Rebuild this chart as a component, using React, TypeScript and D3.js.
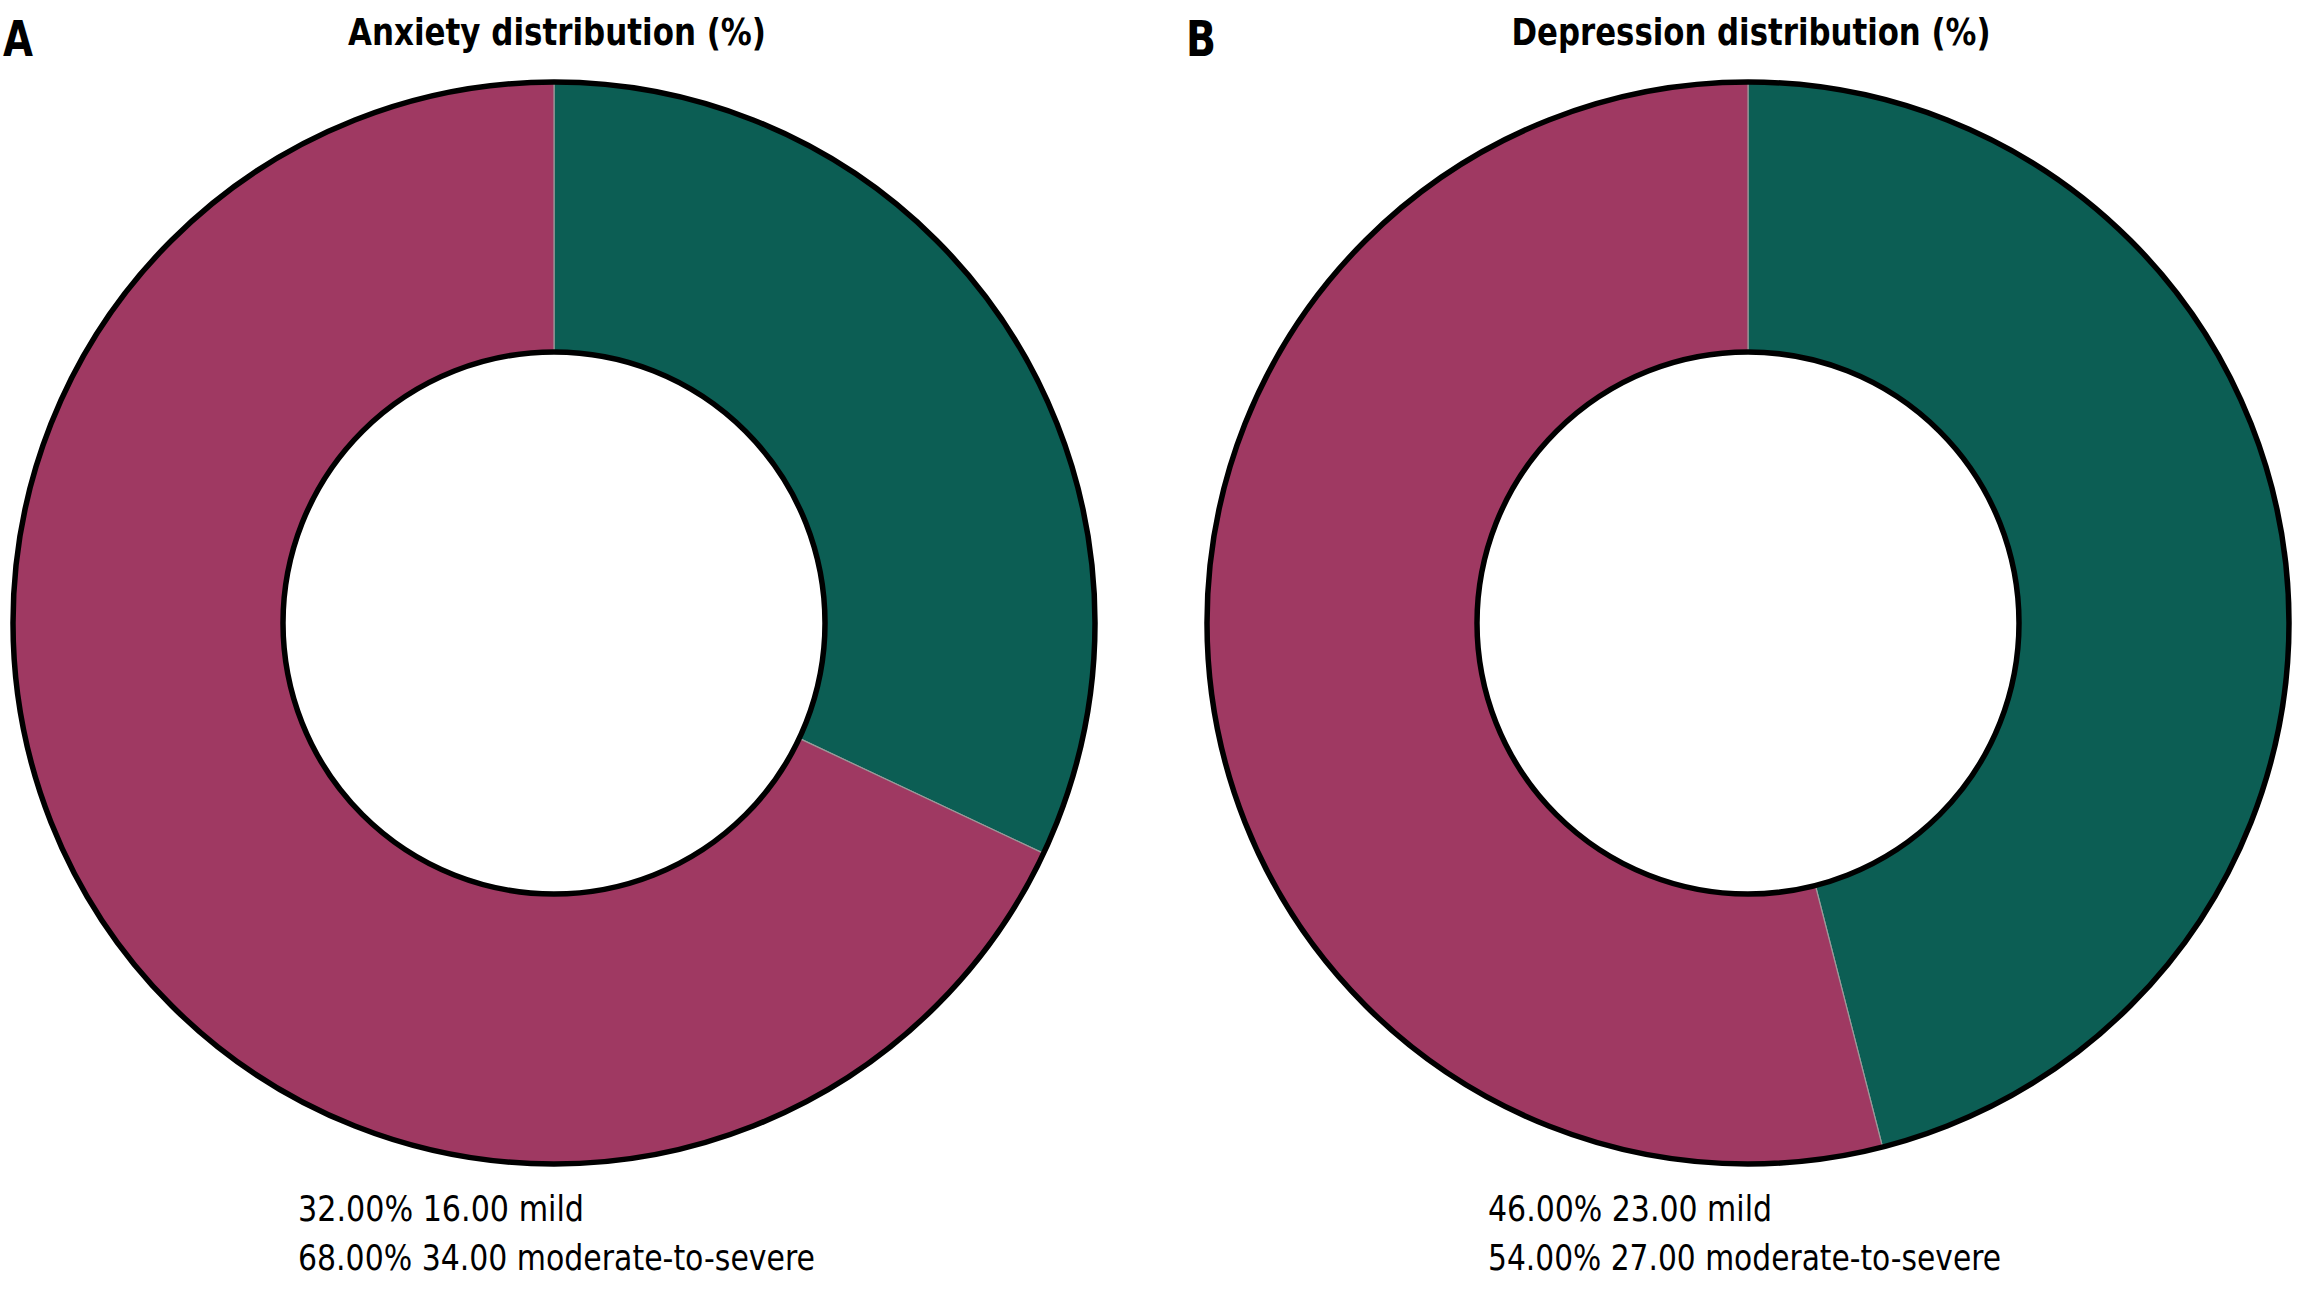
import React from "react";
import * as d3 from "d3";

const categories = ["mild", "moderate-to-severe"];
const anxietyPercent = [32.0, 68.0];
const anxietyCount = [16.0, 34.0];
const depressionPercent = [46.0, 54.0];
const depressionCount = [23.0, 27.0];
const panelLabels = ["A", "B"];
const panelTitles = ["Anxiety distribution (%)", "Depression distribution (%)"];
const colors = ["#0c5e54", "#9f3962"];

const W = 2310;
const H = 1290;

type PanelProps = {
  cx: number;
  cy: number;
  label: string;
  labelX: number;
  title: string;
  titleWidth: number;
  percents: number[];
  counts: number[];
  legendX: number;
  legendWidths: number[];
};

function Panel(p: PanelProps) {
  const outerR = 541;
  const innerR = 271;
  const pie = d3
    .pie<number>()
    .sort(null)
    .value((d) => d);
  const arcs = pie(p.percents);
  const arc = d3.arc<d3.PieArcDatum<number>>().innerRadius(innerR).outerRadius(outerR);
  const font = "Tahoma, 'DejaVu Sans', Verdana, sans-serif";
  return (
    <g>
      <text
        x={p.labelX}
        y={56}
        fontFamily={font}
        fontWeight="bold"
        fontSize={50}
        textLength={30}
        lengthAdjust="spacingAndGlyphs"
        fill="#000"
      >
        {p.label}
      </text>
      <text
        x={p.cx + 3}
        y={45}
        textAnchor="middle"
        fontFamily={font}
        fontWeight="bold"
        fontSize={38}
        textLength={p.titleWidth}
        lengthAdjust="spacingAndGlyphs"
        fill="#000"
      >
        {p.title}
      </text>
      <g transform={`translate(${p.cx},${p.cy})`}>
        {arcs.map((a, i) => (
          <path key={i} d={arc(a) || ""} fill={colors[i]} stroke="#9a9a9a" strokeWidth={1.2} />
        ))}
        <circle r={outerR} fill="none" stroke="#000" strokeWidth={5.5} />
        <circle r={innerR} fill="#fff" stroke="#000" strokeWidth={5.5} />
      </g>
      {categories.map((c, i) => (
        <text
          key={c}
          x={p.legendX}
          y={1221 + i * 49}
          fontFamily={font}
          fontSize={35}
          textLength={p.legendWidths[i]}
          lengthAdjust="spacingAndGlyphs"
          fill="#000"
        >
          {`${p.percents[i].toFixed(2)}% ${p.counts[i].toFixed(2)} ${c}`}
        </text>
      ))}
    </g>
  );
}

export default function App() {
  return (
    <svg
      width={W}
      height={H}
      viewBox={`0 0 ${W} ${H}`}
      style={{ position: "absolute", left: 0, top: 0, display: "block", background: "#fff" }}
    >
      <rect width={W} height={H} fill="#fff" />
      <Panel
        cx={554}
        cy={623}
        label={panelLabels[0]}
        labelX={3}
        title={panelTitles[0]}
        titleWidth={418}
        percents={anxietyPercent}
        counts={anxietyCount}
        legendX={298}
        legendWidths={[286, 517]}
      />
      <Panel
        cx={1748}
        cy={623}
        label={panelLabels[1]}
        labelX={1186}
        title={panelTitles[1]}
        titleWidth={479}
        percents={depressionPercent}
        counts={depressionCount}
        legendX={1488}
        legendWidths={[284, 513]}
      />
    </svg>
  );
}
